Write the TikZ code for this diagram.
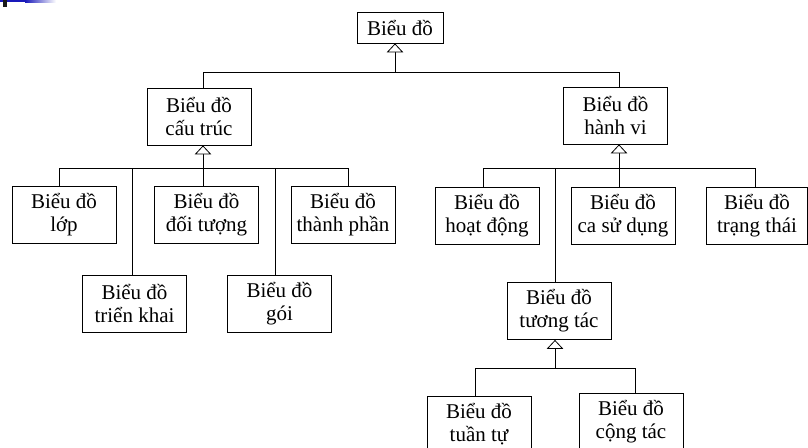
\documentclass[tikz,border=0pt]{standalone}
\usepackage{fontspec}
\setmainfont{Liberation Serif}
\usetikzlibrary{arrows.meta}
\tikzset{
  box/.style={draw, line width=0.6pt, minimum width=78pt, minimum height=42.75pt, inner sep=0pt, align=center,
    font=\fontsize{15.75}{17.25}\selectfont, fill=white},
  conn/.style={line width=0.6pt},
  inh/.style={line width=0.6pt, -{Triangle[open, width=12.5pt, length=6.8pt, fill=white]}}
}
\begin{document}
\begin{tikzpicture}[x=0.75pt, y=-0.75pt]
\clip (0,0) rectangle (808,447);
\fill[white] (0,0) rectangle (808,447);
% corner decoration
\fill[blue!70!black!90] (0,0) rectangle (25,2);
\shade[left color=blue!70!black!90, right color=white] (25,0) rectangle (56,2);
\fill[black!90] (3,0) rectangle (7,7);

% nodes
\node[box, minimum width=64.5pt, minimum height=23.25pt] (root) at (400,27.5) {Biểu đồ};
\node[box] (ct) at (199,116.5) {Biểu đồ\\cấu trúc};
\node[box] (hv) at (615.5,115.5) {Biểu đồ\\hành vi};
\node[box] (lop) at (64,215) {Biểu đồ\\lớp};
\node[box] (dt) at (206.5,215) {Biểu đồ\\đối tượng};
\node[box] (tp) at (343,215) {Biểu đồ\\thành phần};
\node[box] (tk) at (134.5,303.5) {Biểu đồ\\triển khai};
\node[box] (goi) at (279.5,303.5) {Biểu đồ\\gói};
\node[box] (hd) at (487,215.5) {Biểu đồ\\hoạt động};
\node[box] (csd) at (623,215.5) {Biểu đồ\\ca sử dụng};
\node[box, minimum width=75.75pt] (tt) at (757,215.5) {Biểu đồ\\trạng thái};
\node[box] (tg) at (559,311) {Biểu đồ\\tương tác};
\node[box] (tu) at (479,424.5) {Biểu đồ\\tuần tự};
\node[box] (cg) at (631,421.5) {Biểu đồ\\cộng tác};

% level 1
\coordinate (r0) at (395,72);
\coordinate (rL) at (203,72);
\coordinate (rR) at (619,72);
\draw[inh] (r0) -- (r0 |- root.south);
\draw[conn] (rL) -- (rR);
\draw[conn] (rL) -- (rL |- ct.north);
\draw[conn] (rR) -- (rR |- hv.north);

% structure subtree
\coordinate (s0) at (203,168);
\coordinate (s1) at (59,168);
\coordinate (s2) at (132,168);
\coordinate (s4) at (275,168);
\coordinate (s5) at (348,168);
\draw[inh] (s0) -- (s0 |- ct.south);
\draw[conn] (s1) -- (s5);
\draw[conn] (s1) -- (s1 |- lop.north);
\draw[conn] (s2) -- (s2 |- tk.north);
\draw[conn] (s0) -- (s0 |- dt.north);
\draw[conn] (s4) -- (s4 |- goi.north);
\draw[conn] (s5) -- (s5 |- tp.north);

% behaviour subtree
\coordinate (b0) at (619,168);
\coordinate (b1) at (483,168);
\coordinate (b2) at (555,168);
\coordinate (b4) at (755,168);
\draw[inh] (b0) -- (b0 |- hv.south);
\draw[conn] (b1) -- (b4);
\draw[conn] (b1) -- (b1 |- hd.north);
\draw[conn] (b2) -- (b2 |- tg.north);
\draw[conn] (b0) -- (b0 |- csd.north);
\draw[conn] (b4) -- (b4 |- tt.north);

% interaction subtree
\coordinate (i0) at (555,368);
\coordinate (i1) at (475,368);
\coordinate (i2) at (635,368);
\draw[inh] (i0) -- (i0 |- tg.south);
\draw[conn] (i1) -- (i2);
\draw[conn] (i1) -- (i1 |- tu.north);
\draw[conn] (i2) -- (i2 |- cg.north);
\end{tikzpicture}
\end{document}
